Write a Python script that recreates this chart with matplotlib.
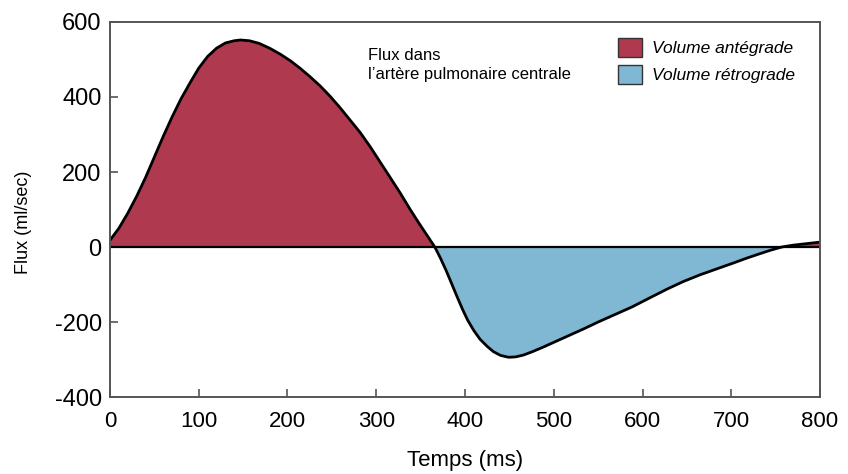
import numpy as np
import matplotlib.pyplot as plt
from matplotlib.patches import Patch

plt.rcParams['axes.unicode_minus'] = False

# Flux dans l'artère pulmonaire
temps = [0, 10, 20, 30, 40, 50, 60, 70, 80, 90, 100, 110, 120, 130, 140, 147,
         157, 168, 180, 192, 203, 214, 225, 237, 248, 259, 270, 282, 293, 304,
         315, 327, 338, 348, 357, 366, 372, 379, 385, 391, 397, 403, 410, 417,
         425, 432, 440, 449, 457, 466, 476, 488, 503, 518, 534, 550, 569, 588,
         607, 627, 646, 665, 684, 702, 717, 732, 745, 757, 770, 785, 800]
flux = [18, 50, 90, 135, 185, 240, 295, 347, 395, 437, 477, 508, 530, 544, 550, 552,
        550, 543, 530, 514, 497, 477, 455, 429, 402, 372, 340, 305, 268, 228,
        188, 144, 101, 64, 32, 0, -28, -64, -98, -132, -165, -195, -223, -246,
        -265, -279, -289, -294, -293, -288, -279, -267, -251, -235, -218, -200, -180, -160,
        -137, -113, -92, -74, -58, -43, -30, -18, -8, 0, 5, 9, 13]

x_ticks = [0, 100, 200, 300, 400, 500, 600, 700, 800]
y_ticks = [-400, -200, 0, 200, 400, 600]

rouge = '#AF3A50'
bleu = '#80B8D4'

t = np.array(temps)
f = np.array(flux)

fig = plt.figure(figsize=(8.48, 4.74), dpi=100)
ax = fig.add_axes([0.1297, 0.1624, 0.8373, 0.7912])

ax.fill_between(t, f, 0, where=f >= 0, interpolate=True, color=rouge, lw=0)
ax.fill_between(t, f, 0, where=f <= 0, interpolate=True, color=bleu, lw=0)
ax.axhline(0, color='black', lw=1.6)
ax.plot(t, f, color='black', lw=2, solid_joinstyle='round')

ax.set_xlim(0, 800)
ax.set_ylim(-400, 600)
ax.set_xticks(x_ticks)
ax.set_yticks(y_ticks)
ax.tick_params(direction='in', length=6, width=1.2, color='#555555')
for lab in ax.get_xticklabels():
    lab.set_fontfamily('Liberation Sans')
    lab.set_fontsize(16)
for lab in ax.get_yticklabels():
    lab.set_fontfamily('Liberation Sans')
    lab.set_fontsize(17)
ax.tick_params(axis='x', pad=10)
ax.tick_params(axis='y', pad=6)
for s in ax.spines.values():
    s.set_color('#555555')
    s.set_linewidth(1.4)

ax.set_xlabel('Temps (ms)', fontsize=16, family='Liberation Sans', labelpad=13)
ax.set_ylabel('Flux (ml/sec)', fontsize=13, family='Liberation Sans')
ax.yaxis.set_label_coords(-0.110, 0.467)

ax.text(0.364, 0.885, "Flux dans\nl\u2019artère pulmonaire centrale", transform=ax.transAxes,
        fontsize=12, family='Liberation Sans', va='center', linespacing=1.35)

handles = [Patch(facecolor=rouge, edgecolor='#333333', lw=1, label='Volume antégrade'),
           Patch(facecolor=bleu, edgecolor='#333333', lw=1, label='Volume rétrograde')]
ax.legend(handles=handles, loc='upper left', bbox_to_anchor=(0.693, 1.0), frameon=False,
          prop={'family': 'Liberation Sans', 'style': 'italic', 'size': 12.5},
          handlelength=1.4, handleheight=1.35, handletextpad=0.6, labelspacing=0.45)

fig.savefig('out.png', dpi=100, facecolor='white')
